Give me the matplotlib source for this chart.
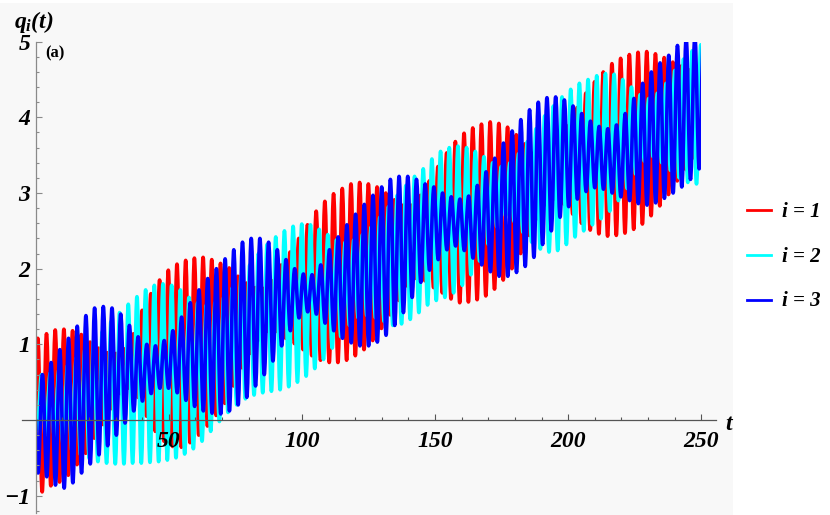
import numpy as np
import matplotlib
matplotlib.use("Agg")
import matplotlib.pyplot as plt
from matplotlib.path import Path
from matplotlib.patches import PathPatch, Rectangle
from matplotlib.lines import Line2D

# --- data: one max and one min per fast oscillation ---
period = 3.267        # fast period of q1 and q3
period_c = 3.258      # fast period of q2
red_first_peak = 0.80
blue_first_trough = 0.90
cyan_first_trough = 0.57

red_peaks = [1.08, 1.14, 1.19, 1.20, 1.18, 1.13, 1.03, 0.95, 0.89, 0.88,
             0.94, 1.14, 1.45, 1.67, 1.85, 1.98, 2.06, 2.11, 2.14, 2.15,
             2.12, 2.07, 2.01, 1.90, 1.81, 1.75, 1.74, 1.84, 2.05, 2.22,
             2.40, 2.58, 2.76, 2.89, 2.99, 3.06, 3.12, 3.14, 3.12, 3.08,
             3.00, 2.91, 2.84, 2.84, 2.97, 3.16, 3.35, 3.53, 3.68, 3.79,
             3.86, 3.91, 3.94, 3.92, 3.87, 3.77, 3.65, 3.53, 3.45, 3.49,
             3.66, 3.89, 4.13, 4.32, 4.47, 4.60, 4.71, 4.78, 4.83, 4.86,
             4.87, 4.84, 4.79, 4.73, 4.68, 4.63, 4.59]
red_troughs = [-0.95, -0.87, -0.82, -0.73, -0.59, -0.44, -0.24, -0.06, 0.15, 0.35,
               0.42, 0.30, 0.05, -0.15, -0.28, -0.35, -0.36, -0.30, -0.20, -0.08,
               0.06, 0.22, 0.45, 0.69, 0.88, 1.06, 1.17, 1.17, 1.08, 1.01,
               0.93, 0.85, 0.79, 0.76, 0.76, 0.79, 0.85, 0.93, 1.05, 1.21,
               1.39, 1.58, 1.77, 1.87, 1.84, 1.75, 1.68, 1.60, 1.55, 1.56,
               1.59, 1.64, 1.73, 1.85, 2.00, 2.20, 2.44, 2.66, 2.84, 2.92,
               2.85, 2.72, 2.60, 2.51, 2.46, 2.43, 2.44, 2.47, 2.52, 2.59,
               2.70, 2.83, 2.98, 3.16, 3.31, 3.46, 3.62]

blue_troughs = [-0.70, -0.75, -0.86, -0.90, -0.83, -0.70, -0.58, -0.46, -0.34, -0.20,
                -0.04, 0.12, 0.25, 0.35, 0.42, 0.42, 0.36, 0.26, 0.18, 0.12,
                0.09, 0.08, 0.12, 0.20, 0.30, 0.45, 0.60, 0.78, 0.98, 1.18,
                1.35, 1.43, 1.40, 1.28, 1.18, 1.08, 1.02, 0.98, 0.98, 1.03,
                1.12, 1.25, 1.42, 1.62, 1.82, 1.98, 2.12, 2.25, 2.30, 2.24,
                2.14, 2.05, 1.96, 1.90, 1.90, 1.95, 2.03, 2.15, 2.32, 2.50,
                2.68, 2.82, 2.92, 3.02, 3.07, 3.05, 3.00, 2.95, 2.90, 2.86,
                2.84, 2.87, 2.93, 3.00, 3.08, 3.18, 3.32]
blue_peaks = [0.60, 0.76, 0.93, 1.08, 1.24, 1.38, 1.48, 1.50, 1.48, 1.40,
              1.25, 1.10, 1.00, 0.98, 1.05, 1.18, 1.36, 1.55, 1.72, 1.87,
              2.00, 2.13, 2.25, 2.35, 2.40, 2.40, 2.35, 2.25, 2.12, 2.00,
              1.93, 1.92, 2.05, 2.25, 2.42, 2.58, 2.72, 2.85, 2.97, 3.08,
              3.18, 3.22, 3.22, 3.18, 3.12, 3.08, 3.00, 2.95, 2.92, 2.96,
              3.10, 3.28, 3.46, 3.66, 3.82, 3.97, 4.10, 4.20, 4.26, 4.27,
              4.23, 4.15, 4.05, 3.95, 3.88, 3.85, 3.90, 4.05, 4.25, 4.45,
              4.60, 4.72, 4.82, 4.95, 5.05, 5.08, 5.10]

cyan_troughs = [-0.12, -0.18, -0.25, -0.33, -0.40, -0.46, -0.51, -0.55, -0.57, -0.58,
                -0.58, -0.57, -0.57, -0.56, -0.55, -0.53, -0.50, -0.45, -0.38, -0.28,
                -0.15, -0.02, 0.10, 0.20, 0.28, 0.33, 0.36, 0.38, 0.40, 0.44,
                0.50, 0.58, 0.68, 0.80, 0.95, 1.10, 1.25, 1.35, 1.38, 1.35,
                1.30, 1.25, 1.27, 1.33, 1.42, 1.52, 1.58, 1.62, 1.68, 1.78,
                1.92, 2.10, 2.32, 2.55, 2.70, 2.62, 2.48, 2.35, 2.26, 2.22,
                2.24, 2.32, 2.42, 2.50, 2.58, 2.66, 2.76, 2.90, 3.06, 3.25,
                3.42, 3.48, 3.40, 3.30, 3.20, 3.14, 3.12]
cyan_peaks = [0.60, 0.62, 0.66, 0.72, 0.82, 0.93, 1.05, 1.17, 1.30, 1.42,
              1.53, 1.63, 1.72, 1.78, 1.80, 1.78, 1.72, 1.62, 1.55, 1.52,
              1.55, 1.62, 1.75, 1.90, 2.05, 2.20, 2.32, 2.42, 2.50, 2.56,
              2.59, 2.58, 2.52, 2.45, 2.38, 2.35, 2.38, 2.45, 2.55, 2.68,
              2.82, 2.97, 3.10, 3.22, 3.32, 3.45, 3.55, 3.60, 3.62, 3.60,
              3.55, 3.48, 3.40, 3.35, 3.40, 3.52, 3.68, 3.85, 4.02, 4.15,
              4.27, 4.37, 4.45, 4.50, 4.55, 4.58, 4.57, 4.50, 4.40, 4.30,
              4.25, 4.32, 4.45, 4.62, 4.77, 4.88, 4.96]

labels = ["i = 1", "i = 2", "i = 3"]
colors = ["#ff0000", "#00ffff", "#0000ff"]

x_major = [50, 100, 150, 200, 250]
y_major = [-1, 1, 2, 3, 4, 5]
t_max = 250


def extrema_series(t_first, per, first_vals, second_vals):
    """Alternate first/second extrema, half a period apart, starting from q(0)=0."""
    k = np.arange(len(first_vals))
    t1 = t_first + per * k
    t2 = t1 + per / 2
    t = np.concatenate([[0.0], np.column_stack([t1, t2]).ravel()])
    q = np.concatenate([[0.0], np.column_stack([first_vals, second_vals]).ravel()])
    return t, q


def wave_path(t, q):
    """Smooth path through the extrema (horizontal tangent at each one)."""
    verts = [(t[0], q[0])]
    codes = [Path.MOVETO]
    for i in range(1, len(t)):
        d = 0.364 * (t[i] - t[i - 1])
        if i == 1:
            c1 = (t[0] + d, q[0] + 0.5 * (q[1] - q[0]))
        else:
            c1 = (t[i - 1] + d, q[i - 1])
        verts += [c1, (t[i] - d, q[i]), (t[i], q[i])]
        codes += [Path.CURVE4] * 3
    return Path(verts, codes)


plt.rcParams["font.family"] = ["Liberation Serif", "DejaVu Serif"]
plt.rcParams["font.weight"] = "bold"
plt.rcParams["font.style"] = "italic"
plt.rcParams["mathtext.fontset"] = "custom"
plt.rcParams["mathtext.it"] = "Liberation Serif:italic:bold"
plt.rcParams["mathtext.rm"] = "Liberation Serif:bold"

W, H = 830, 515
fig = plt.figure(figsize=(W / 100, H / 100), dpi=100, facecolor="white")

# light grey plot backdrop (legend sits on white)
fig.add_artist(Rectangle((0, 0), 733 / W, (H - 3) / H, transform=fig.transFigure,
                         facecolor="#f8f8f8", edgecolor="none", zorder=-10))

ax = fig.add_axes([21.7 / W, 2 / H, 694.3 / W, 471.3 / H])
ax.set_facecolor("none")
ax.set_xlim(-5.25, 255.5)
ax.set_ylim(-1.229, 5.0)

series = [
    extrema_series(red_first_peak, period, red_peaks, red_troughs),
    extrema_series(cyan_first_trough, period_c, cyan_troughs, cyan_peaks),
    extrema_series(blue_first_trough, period, blue_troughs, blue_peaks),
]
clip = Rectangle((0, -1.229), t_max, 6.229, transform=ax.transData)
for (t, q), col, z in zip(series, colors, [2, 3, 4]):
    patch = PathPatch(wave_path(t, q), facecolor="none", edgecolor=col,
                      linewidth=2.6, capstyle="round", joinstyle="round", zorder=z)
    ax.add_patch(patch)
    patch.set_clip_path(clip)

# axes through the origin, Mathematica style
for side in ["top", "right"]:
    ax.spines[side].set_visible(False)
ax.spines["left"].set_position(("data", 0))
ax.spines["bottom"].set_position(("data", 0))
ax.spines["left"].set_color("#8a8a8a")
ax.spines["bottom"].set_color("#555555")
for sp in ax.spines.values():
    sp.set_linewidth(0.9)
    sp.set_zorder(10)
ax.xaxis.set_zorder(10)
ax.yaxis.set_zorder(10)

ax.set_xticks(x_major)
ax.set_xticks([v for v in range(10, 251, 10) if v not in x_major], minor=True)
ax.set_yticks(y_major)
ax.set_yticks([v / 10 for v in range(-12, 51, 2) if v % 10 != 0], minor=True)
ax.set_xticklabels([str(v) for v in x_major])
ax.set_yticklabels([str(v).replace("-", "\u2212") for v in y_major])

ax.tick_params(axis="x", which="both", direction="in", color="#555555", width=0.8,
               labelsize=17, pad=7.8)
ax.tick_params(axis="y", which="both", direction="in", color="#8a8a8a", width=0.8,
               labelsize=17, pad=4)
ax.tick_params(which="major", length=4.2)
ax.tick_params(which="minor", length=2.5)

# axis labels and panel tag
fig.text(34 / W, 1 - 22 / H, r"$q_i(t)$", fontsize=17, ha="center", va="center")
fig.text(55 / W, 1 - 53 / H, "(a)", fontsize=12, style="normal",
         ha="center", va="center")
fig.text(729 / W, 1 - 424 / H, "t", fontsize=17, ha="center", va="center")

# legend
for lab, col, y in zip(labels, colors, [210, 255, 299.5]):
    fig.add_artist(Line2D([746.7 / W, 770.7 / W], [1 - y / H, 1 - y / H],
                          transform=fig.transFigure, color=col, linewidth=2.0))
    fig.text(781.7 / W, 1 - (y + 7) / H, lab, fontsize=15,
             ha="left", va="baseline")

fig.savefig("out.png", dpi=100, facecolor="white")
